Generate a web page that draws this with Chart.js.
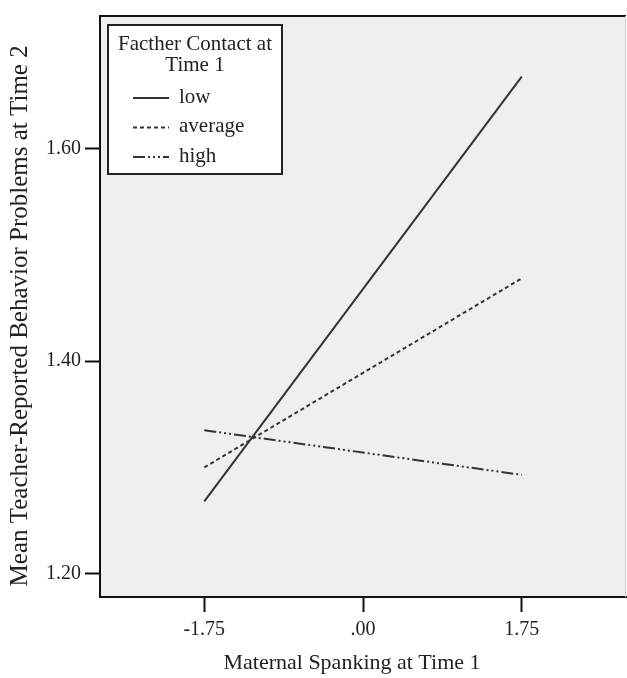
<!DOCTYPE html>
<html>
<head>
<meta charset="utf-8">
<script src="https://cdn.jsdelivr.net/npm/chart.js@4/dist/chart.umd.min.js"></script>
<style>
    html, body { margin: 0; padding: 0; background: #fff; }
    #wrap { width: 627px; height: 678px; }
</style>
</head>
<body>
<div id="wrap"><canvas id="spanking-chart" width="627" height="678"></canvas></div>
<script>
const spankingLevels = [-1.75, 1.75];
const lowContact = [1.268, 1.668];
const averageContact = [1.300, 1.478];
const highContact = [1.335, 1.293];

const seriesNames = ["low", "average", "high"];
const legendTitle = ["Facther Contact at", "Time 1"];

const xTicks = [-1.75, 0, 1.75];
const xTickLabels = ["-1.75", ".00", "1.75"];
const yTicks = [1.20, 1.40, 1.60];
const yTickLabels = ["1.20", "1.40", "1.60"];

const SERIF = "'Liberation Serif', 'Times New Roman', serif";
const INK = "#222";
const LINE = "#333";

function toPoints(values){
    return spankingLevels.map((x, i) => ({x: x, y: values[i]}));
}

// grey plot background + top/right edges of the frame
const plotFrame = {
    id: "plotFrame",
    beforeDraw(chart){
        const {ctx, chartArea: a} = chart;
        ctx.save();
        ctx.fillStyle = "#efefef";
        ctx.fillRect(a.left, a.top, a.right - a.left, a.bottom - a.top);
        ctx.restore();
    },
    afterDraw(chart){
        const {ctx, chartArea: a} = chart;
        ctx.save();
        ctx.strokeStyle = "#111";
        ctx.lineWidth = 2;
        ctx.beginPath();
        ctx.moveTo(a.left, a.top);
        ctx.lineTo(a.right, a.top);
        ctx.stroke();
        ctx.strokeStyle = "#cfcfcf";
        ctx.lineWidth = 1;
        ctx.beginPath();
        ctx.moveTo(a.right - 0.5, a.top);
        ctx.lineTo(a.right - 0.5, a.bottom);
        ctx.stroke();
        ctx.restore();
    }
};

// boxed legend in the top-left corner of the plot, two-line title
const boxLegend = {
    id: "boxLegend",
    afterDatasetsDraw(chart){
        const {ctx, chartArea: a} = chart;
        const bx = a.left + 8, by = a.top + 9, bw = 174, bh = 149;
        ctx.save();
        ctx.fillStyle = "#fff";
        ctx.fillRect(bx, by, bw, bh);
        ctx.strokeStyle = "#222";
        ctx.lineWidth = 2;
        ctx.strokeRect(bx, by, bw, bh);

        ctx.fillStyle = INK;
        ctx.font = "21px " + SERIF;
        ctx.textAlign = "center";
        ctx.textBaseline = "middle";
        legendTitle.forEach((t, i) => ctx.fillText(t, bx + bw / 2, by + 19 + i * 21));

        ctx.textAlign = "left";
        chart.data.datasets.forEach((ds, i) => {
            const y = by + 73 + i * 29.5;
            ctx.strokeStyle = ds.borderColor;
            ctx.lineWidth = 2.2;
            ctx.setLineDash(ds.borderDash || []);
            ctx.beginPath();
            ctx.moveTo(bx + 25, y);
            ctx.lineTo(bx + 61, y);
            ctx.stroke();
            ctx.setLineDash([]);
            ctx.fillText(ds.label, bx + 71, y - 1);
        });
        ctx.restore();
    }
};

new Chart(document.querySelector("#spanking-chart"), {
    type: "line",
    data: {
        datasets: [
            {label: seriesNames[0], data: toPoints(lowContact), borderColor: LINE, borderWidth: 2, borderDash: []},
            {label: seriesNames[1], data: toPoints(averageContact), borderColor: LINE, borderWidth: 2, borderDash: [4, 3]},
            {label: seriesNames[2], data: toPoints(highContact), borderColor: LINE, borderWidth: 2, borderDash: [12, 3, 2, 3, 2, 3, 2, 3]}
        ]
    },
    options: {
        responsive: false,
        animation: false,
        layout: {padding: {top: 14, right: 1, left: 0, bottom: 0}},
        elements: {point: {radius: 0}, line: {tension: 0}},
        plugins: {legend: {display: false}, tooltip: {enabled: false}},
        scales: {
            x: {
                type: "linear",
                min: -2.9,
                max: 2.9,
                afterBuildTicks: s => { s.ticks = xTicks.map(v => ({value: v})); },
                afterFit: s => { s.height = 81; },
                ticks: {
                    autoSkip: false,
                    maxRotation: 0,
                    padding: 6,
                    color: INK,
                    font: {family: SERIF, size: 20},
                    callback: v => xTickLabels[xTicks.indexOf(v)]
                },
                grid: {drawOnChartArea: false, drawTicks: true, tickLength: 15, tickWidth: 2, tickColor: "#111"},
                border: {display: true, color: "#111", width: 2},
                title: {
                    display: true,
                    // trailing spaces nudge the centred title a little to the left, as in the original
                    text: "Maternal Spanking at Time 1    ",
                    color: INK,
                    font: {family: SERIF, size: 22},
                    padding: {top: 0, bottom: 2}
                }
            },
            y: {
                min: 1.178,
                max: 1.725,
                afterBuildTicks: s => { s.ticks = yTicks.map(v => ({value: v})); },
                afterFit: s => { s.width = 100; },
                ticks: {
                    autoSkip: false,
                    padding: 4,
                    color: INK,
                    font: {family: SERIF, size: 20},
                    callback: v => yTickLabels[yTicks.indexOf(v)]
                },
                grid: {drawOnChartArea: false, drawTicks: true, tickLength: 15, tickWidth: 2, tickColor: "#111"},
                border: {display: true, color: "#111", width: 2},
                title: {
                    display: true,
                    text: "Mean Teacher-Reported Behavior Problems at Time 2   ",
                    color: INK,
                    font: {family: SERIF, size: 25},
                    padding: {top: 5, bottom: 0}
                }
            }
        }
    },
    plugins: [plotFrame, boxLegend]
});
</script>
</body>
</html>
